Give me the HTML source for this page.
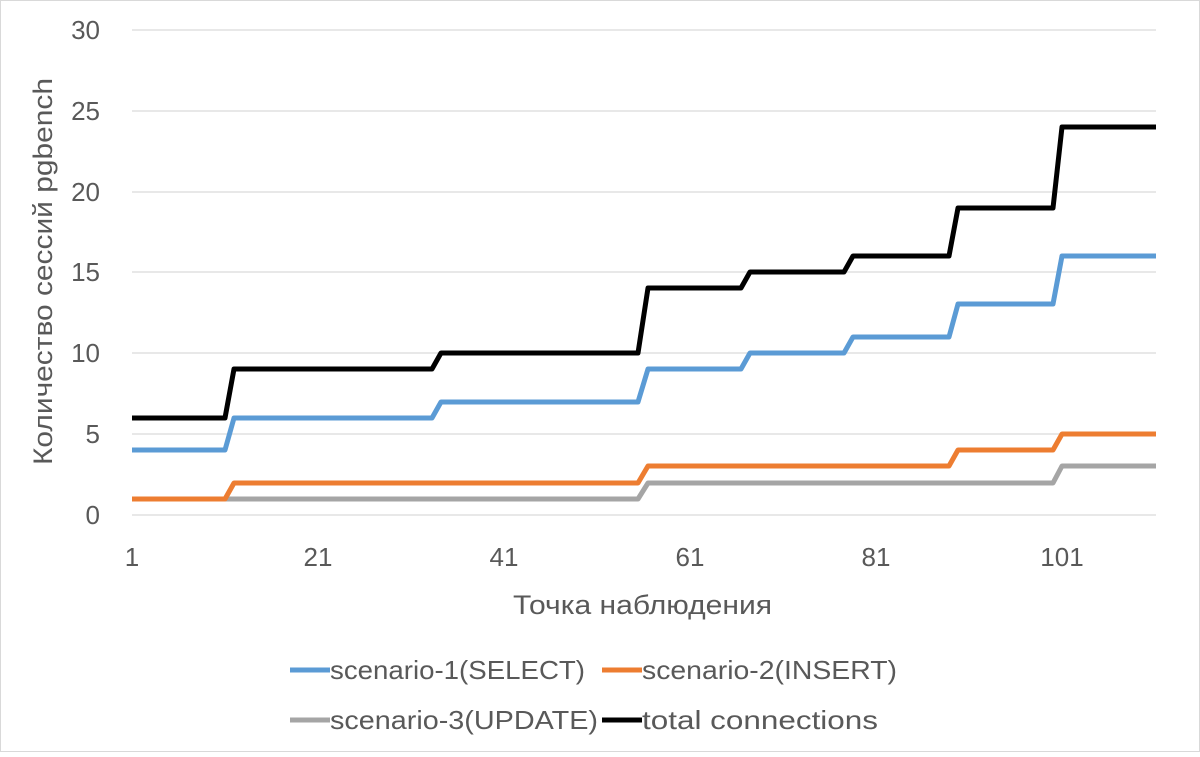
<!DOCTYPE html>
<html><head><meta charset="utf-8"><style>
body{margin:0;background:#fff;}
svg text{font-family:"Liberation Sans","DejaVu Sans",sans-serif;fill:#595959;}
</style></head><body>
<svg width="1200" height="752" viewBox="0 0 1200 752" xmlns="http://www.w3.org/2000/svg">
<rect x="0.5" y="0.5" width="1199" height="751" fill="#fff" stroke="#d9d9d9"/>
<g stroke="#d9d9d9" stroke-width="1.3">
<line x1="132" x2="1156" y1="30" y2="30"/>
<line x1="132" x2="1156" y1="111" y2="111"/>
<line x1="132" x2="1156" y1="192" y2="192"/>
<line x1="132" x2="1156" y1="272" y2="272"/>
<line x1="132" x2="1156" y1="353" y2="353"/>
<line x1="132" x2="1156" y1="434" y2="434"/>
<line x1="132" x2="1156" y1="515" y2="515"/>
</g>
<g font-size="26" text-anchor="end">
<text x="100" y="39">30</text><text x="100" y="120">25</text><text x="100" y="201">20</text>
<text x="100" y="281">15</text><text x="100" y="362">10</text><text x="100" y="443">5</text><text x="100" y="524">0</text>
</g>
<g font-size="26" text-anchor="middle">
<text x="132" y="566">1</text><text x="318" y="566">21</text><text x="504" y="566">41</text>
<text x="690" y="566">61</text><text x="876" y="566">81</text><text x="1062" y="566">101</text>
</g>
<text x="513" y="614" font-size="27" textLength="259" lengthAdjust="spacingAndGlyphs">Точка наблюдения</text>
<text transform="translate(52,465) rotate(-90)" font-size="27" textLength="387" lengthAdjust="spacingAndGlyphs">Количество сессий pgbench</text>
<g fill="none" stroke-width="5" stroke-linejoin="round">
<polyline stroke="#a5a5a5" points="132,499 638,499 648,483 1053,483 1062,466 1156,466"/>
<polyline stroke="#ed7d31" points="132,499 225,499 234,483 638,483 648,466 949,466 958,450 1053,450 1062,434 1156,434"/>
<polyline stroke="#5b9bd5" points="132,450 225,450 234,418 432,418 441,402 638,402 648,369 741,369 750,353 844,353 853,337 949,337 958,304 1053,304 1062,256 1156,256"/>
<polyline stroke="#000" points="132,418 225,418 234,369 432,369 441,353 638,353 648,288 741,288 750,272 844,272 853,256 949,256 958,208 1053,208 1062,127 1156,127"/>
</g>
<g stroke-width="5">
<line x1="290" x2="330" y1="670" y2="670" stroke="#5b9bd5"/>
<line x1="602" x2="642" y1="670" y2="670" stroke="#ed7d31"/>
<line x1="290" x2="330" y1="720" y2="720" stroke="#a5a5a5"/>
<line x1="602" x2="642" y1="720" y2="720" stroke="#000"/>
</g>
<g font-size="26">
<text x="330" y="679" textLength="255" lengthAdjust="spacingAndGlyphs">scenario-1(SELECT)</text>
<text x="642" y="679" textLength="255" lengthAdjust="spacingAndGlyphs">scenario-2(INSERT)</text>
<text x="330" y="729" textLength="268" lengthAdjust="spacingAndGlyphs">scenario-3(UPDATE)</text>
<text x="642" y="729" textLength="236" lengthAdjust="spacingAndGlyphs">total connections</text>
</g>
</svg>
</body></html>
